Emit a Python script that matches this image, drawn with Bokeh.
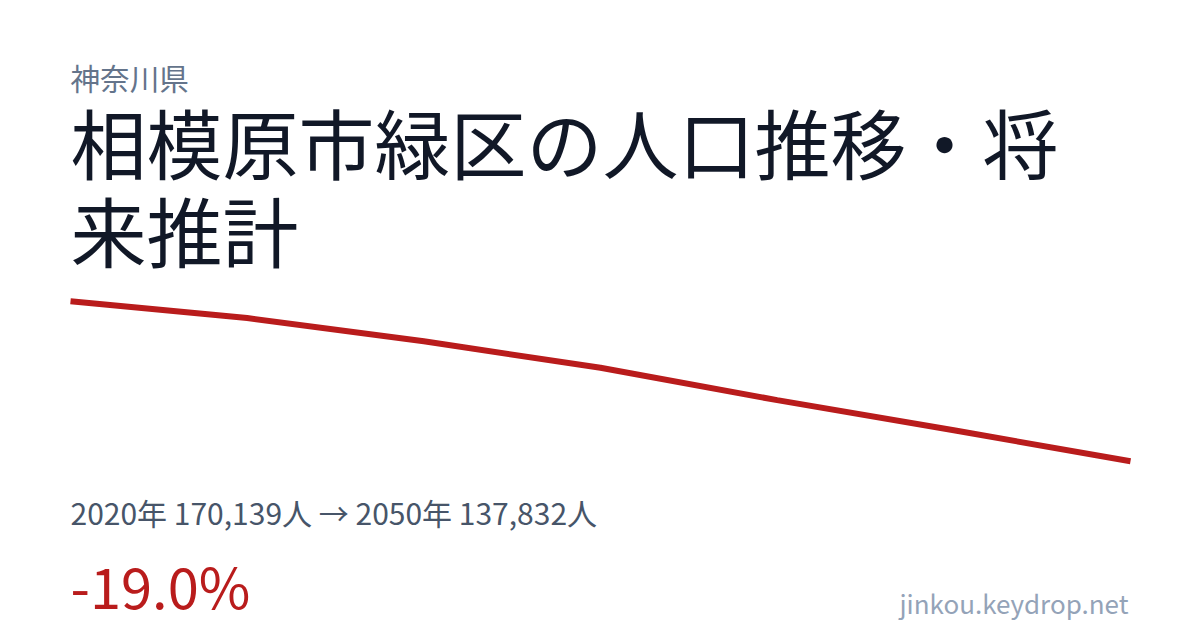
from bokeh.plotting import figure
from bokeh.models import Range1d, Label
from bokeh.embed import file_html
from bokeh.resources import INLINE

# Data
years = [2020, 2025, 2030, 2035, 2040, 2045, 2050]
population = [170139, 166765, 162057, 156703, 150176, 144075, 137832]

prefecture = "神奈川県"
title_line1 = "相模原市緑区の人口推移・将"
title_line2 = "来推計"
summary = "2020年 170,139人 → 2050年 137,832人"
change = "-19.0%"
site = "jinkou.keydrop.net"

W, H = 1200, 630

FONT = "Noto Sans CJK JP"

p = figure(width=W, height=H, output_backend="svg", toolbar_location=None,
           x_range=Range1d(2018.0189, 2051.9811),
           y_range=Range1d(103625, 230916),
           x_axis_location=None, y_axis_location=None,
           min_border=0, outline_line_color=None,
           background_fill_color="white", border_fill_color="white")
p.grid.visible = False

p.line(years, population, line_width=6, line_color="#b91c1c")


def add_text(text, x, y_top, size, color, align="left"):
    p.add_layout(Label(x=x, y=H - y_top, x_units="screen", y_units="screen",
                       text=text, text_font=FONT, text_font_size=f"{size}px",
                       text_color=color, text_align=align,
                       text_baseline="alphabetic"))


add_text(prefecture, 70, 77.3, 29.6, "#64748b")
add_text(title_line1, 70, 140.6, 76, "#111827")
add_text(title_line2, 70, 228.2, 76, "#111827")
add_text(summary, 70, 511.3, 30, "#475569")
add_text(change, 70, 583.5, 56, "#b91c1c")
add_text(site, 1128, 602, 26, "#94a3b8", align="right")

open("out.html", "w").write(file_html(p, INLINE))
